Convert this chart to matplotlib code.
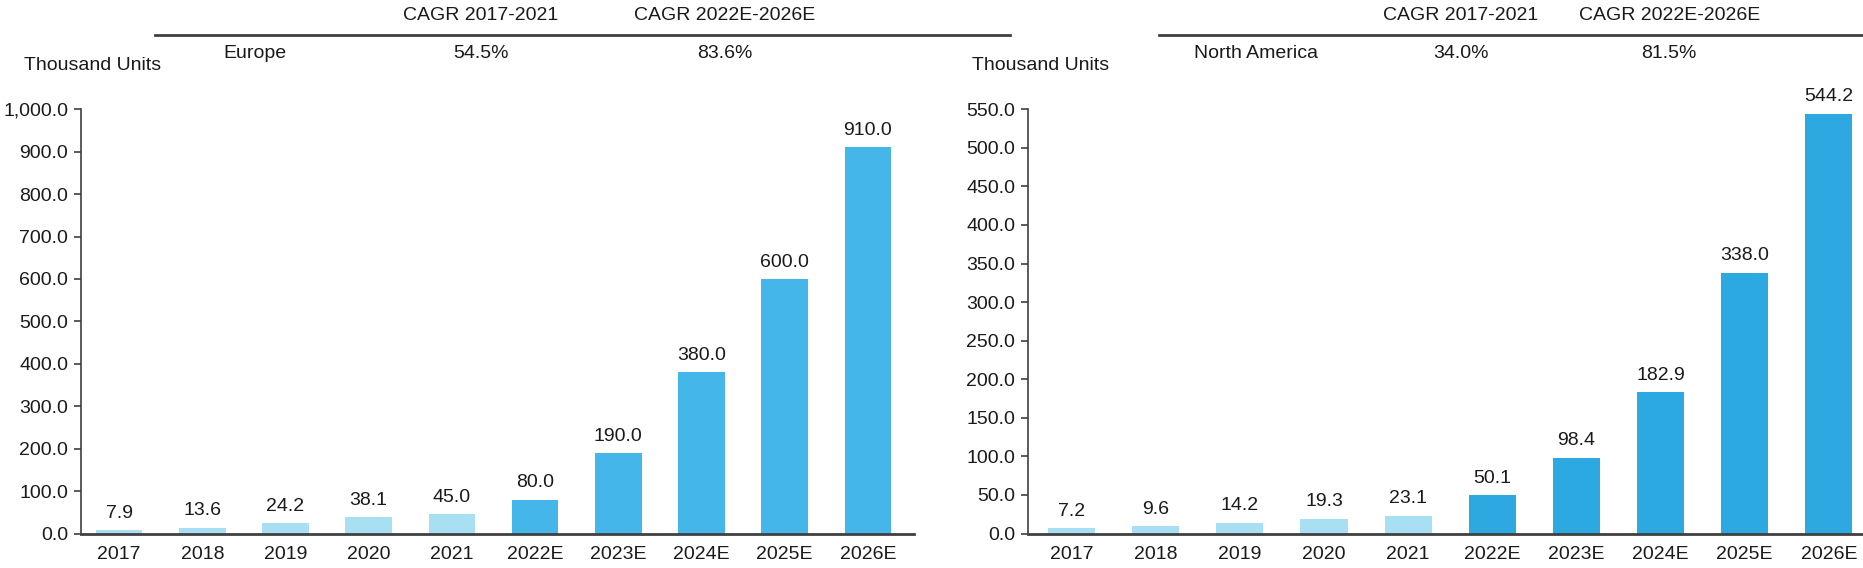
import matplotlib
matplotlib.use("Agg")
import matplotlib.pyplot as plt
from matplotlib.lines import Line2D

plt.rcParams['font.family'] = ['Liberation Sans', 'DejaVu Sans']

years = ["2017", "2018", "2019", "2020", "2021", "2022E", "2023E", "2024E", "2025E", "2026E"]
europe = [7.9, 13.6, 24.2, 38.1, 45.0, 80.0, 190.0, 380.0, 600.0, 910.0]
north_america = [7.2, 9.6, 14.2, 19.3, 23.1, 50.1, 98.4, 182.9, 338.0, 544.2]

cagr_header = ["CAGR 2017-2021", "CAGR 2022E-2026E"]
europe_cagr = ["54.5%", "83.6%"]
na_cagr = ["34.0%", "81.5%"]

hist_color = "#A8DFF2"
dark = "#404040"
txt = "#1a1a1a"
fs = 14

fig = plt.figure(figsize=(18.63, 5.68), dpi=100)


def draw_panel(ax, vals, fc_color, ymax, step, xlim):
    colors = [hist_color if not y.endswith("E") else fc_color for y in years]
    x = range(len(years))
    ax.bar(x, vals, width=0.56, color=colors)
    for i, v in enumerate(vals):
        ax.annotate(f"{v:.1f}", (i, v), xytext=(0, 6), textcoords="offset points",
                    ha="center", va="bottom", fontsize=fs, color=txt)
    ax.set_xlim(*xlim)
    ax.set_ylim(0, ymax)
    ticks = [i * step for i in range(int(round(ymax / step)) + 1)]
    ax.set_yticks(ticks)
    ax.set_yticklabels([f"{t:,.1f}" for t in ticks], fontsize=fs, color=txt)
    ax.set_xticks(list(x))
    ax.set_xticklabels(years, fontsize=fs, color=txt)
    ax.tick_params(axis="x", length=0, pad=9)
    ax.tick_params(axis="y", length=5, width=1.2, color=dark, direction="out", pad=4)
    for s in ["top", "right"]:
        ax.spines[s].set_visible(False)
    ax.spines["left"].set_color(dark)
    ax.spines["bottom"].set_color(dark)
    ax.spines["left"].set_linewidth(1.2)
    ax.spines["bottom"].set_linewidth(2)


ax1 = fig.add_axes([0.0434, 0.0607, 0.447, 0.747])
draw_panel(ax1, europe, "#45B6E9", 1000, 100, (-0.46, 9.55))

ax2 = fig.add_axes([0.5517, 0.0607, 0.448, 0.747])
draw_panel(ax2, north_america, "#2DA9E1", 550, 50, (-0.52, 9.4))


def draw_table(x0, x1, name_x, col_x, name, cagr):
    for cx, h in zip(col_x, cagr_header):
        fig.text(cx, 0.972, h, ha="center", va="center", fontsize=fs, color=txt)
    fig.add_artist(Line2D([x0, x1], [0.939, 0.939], transform=fig.transFigure,
                          color=dark, linewidth=2))
    fig.text(name_x, 0.906, name, ha="left", va="center", fontsize=fs, color=txt)
    for cx, c in zip(col_x, cagr):
        fig.text(cx, 0.906, c, ha="center", va="center", fontsize=fs, color=txt)


draw_table(0.083, 0.542, 0.120, [0.258, 0.389], "Europe", europe_cagr)
draw_table(0.622, 1.0, 0.641, [0.784, 0.896], "North America", na_cagr)

fig.text(0.013, 0.885, "Thousand Units", ha="left", va="center", fontsize=fs, color=txt)
fig.text(0.522, 0.885, "Thousand Units", ha="left", va="center", fontsize=fs, color=txt)

fig.savefig("out.png", dpi=100)
